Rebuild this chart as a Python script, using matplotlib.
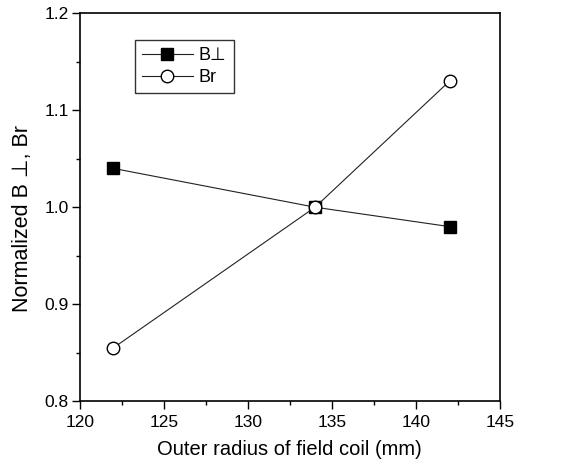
import matplotlib
matplotlib.use("Agg")
import matplotlib.pyplot as plt
from matplotlib.ticker import MultipleLocator

plt.rcParams['font.family'] = ['Liberation Sans', 'DejaVu Sans']

radius = [122, 134, 142]
b_perp = [1.04, 1.00, 0.98]
b_r = [0.855, 1.00, 1.13]

fig = plt.figure(figsize=(5.78, 4.72), dpi=100)
ax = fig.add_axes([0.138, 0.150, 0.727, 0.822])

ax.plot(radius, b_perp, color='#222222', lw=0.8, marker='s', ms=8,
        mfc='black', mec='black', label='B⊥')
ax.plot(radius, b_r, color='#222222', lw=0.8, marker='o', ms=9,
        mfc='white', mec='black', mew=1.0, label='Br')

ax.set_xlim(120, 145)
ax.set_ylim(0.8, 1.2)
ax.xaxis.set_major_locator(MultipleLocator(5))
ax.xaxis.set_minor_locator(MultipleLocator(2.5))
ax.yaxis.set_major_locator(MultipleLocator(0.1))
ax.yaxis.set_minor_locator(MultipleLocator(0.05))
ax.yaxis.set_major_formatter(plt.FuncFormatter(lambda v, p: f"{v:.1f}"))
ax.tick_params(which='major', direction='out', length=6, width=1, labelsize=12.5, pad=4)
ax.tick_params(axis='y', which='major', pad=2)
ax.tick_params(which='minor', direction='out', length=3, width=1)
for s in ax.spines.values():
    s.set_linewidth(1.2)

ax.set_xlabel('Outer radius of field coil (mm)', fontsize=14.5, labelpad=7)
ax.set_ylabel('Normalized B ⊥, Br', fontsize=15.5)
ax.yaxis.set_label_coords(-0.112, 0.47)

leg = ax.legend(loc='upper left', bbox_to_anchor=(0.131, 0.932), fontsize=13,
                frameon=True, fancybox=False, edgecolor='black',
                handlelength=2.8, handletextpad=0.35, borderpad=0.4,
                labelspacing=0.3, borderaxespad=0)
leg.get_frame().set_linewidth(1.0)

fig.savefig('out.png', dpi=100)
